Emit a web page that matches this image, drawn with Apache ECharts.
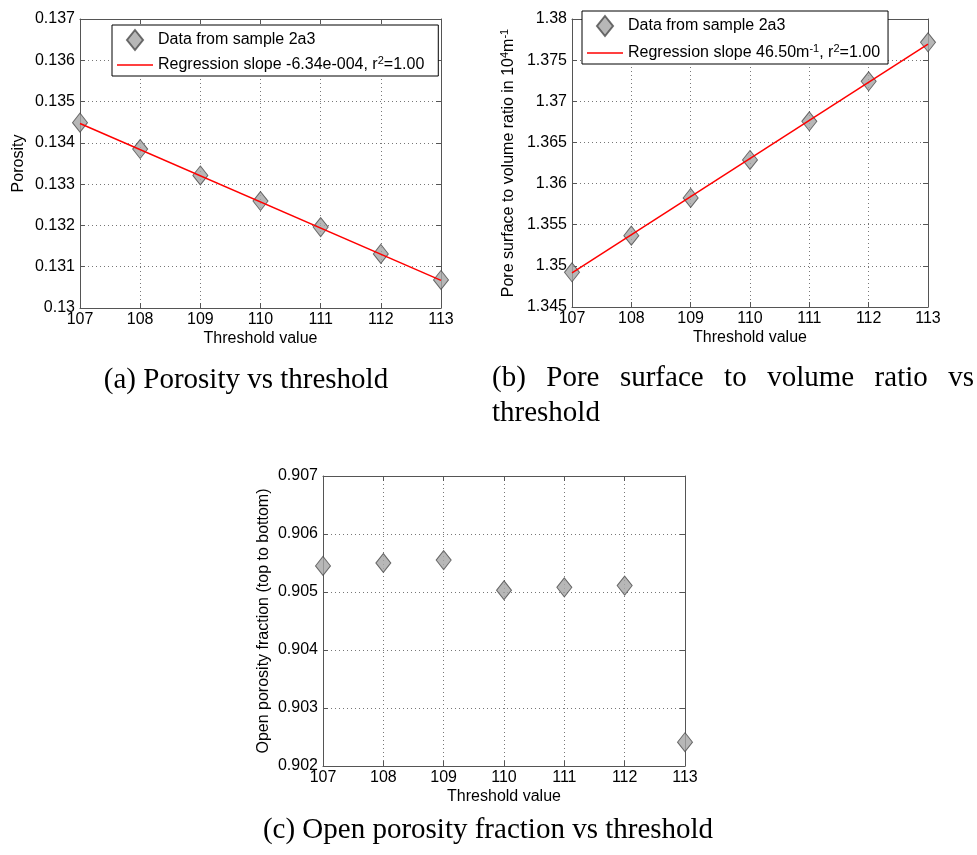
<!DOCTYPE html>
<html>
<head>
<meta charset="utf-8">
<script src="https://cdn.jsdelivr.net/npm/echarts@6/dist/echarts.min.js"></script>
<style>
html,body{margin:0;padding:0;background:#fff;}
#main{width:977px;height:855px;}
</style>
</head>
<body>
<div id="main"></div>
<script>
// ---- data ----
const thresholds = [107, 108, 109, 110, 111, 112, 113];
const porosity = [0.13449, 0.13385, 0.13321, 0.13259, 0.13196, 0.13131, 0.13068];
const porosityFit = [0.13447, 0.13067];          // regression line at 107 and 113
const surfaceRatio = [1.34922, 1.35367, 1.35825, 1.36287, 1.36757, 1.37243, 1.37717];
const surfaceFit = [1.34915, 1.37696];            // regression line at 107 and 113
const openPorosity = [0.90545, 0.9055, 0.90555, 0.90503, 0.90508, 0.90511, 0.90241];
const fitX = [107, 113];

const yTicksA = {min: 0.13, max: 0.137, interval: 0.001};
const yTicksB = {min: 1.345, max: 1.38, interval: 0.005};
const yTicksC = {min: 0.902, max: 0.907, interval: 0.001};
const xTicks = {min: 107, max: 113, interval: 1};

const dataName = 'Data from sample 2a3';
const regNameA = 'Regression slope -6.34e-004, r2=1.00';
const regNameB = 'Regression slope 46.50m-1, r2=1.00';

// ---- styling ----
const FONT = 'Liberation Sans, Arial, sans-serif';
const CAPFONT = '29px "Liberation Serif", serif';
const AX = '#555';
const grids = [
  {left: 80, top: 19, width: 361, height: 289},
  {left: 572, top: 19, width: 356, height: 288},
  {left: 323, top: 476, width: 362, height: 290}
];
const supRich = {
  sup: {fontSize: 11, fontFamily: FONT, color: '#000', verticalAlign: 'top', lineHeight: 11},
  n: {fontSize: 16, fontFamily: FONT, color: '#000', lineHeight: 20}
};

function xAxes(gi) {
  return [
    {gridIndex: gi, type: 'value', position: 'bottom', ...xTicks,
     axisLine: {show: true, lineStyle: {color: AX, width: 1}},
     axisTick: {show: true, inside: true, length: 5, lineStyle: {color: AX}},
     axisLabel: {color: '#000', fontSize: 16, fontFamily: FONT, margin: 4},
     splitLine: {show: true, lineStyle: {color: '#777', type: [1, 3], width: 1}},
     name: 'Threshold value', nameLocation: 'middle', nameGap: 23,
     nameTextStyle: {color: '#000', fontSize: 16, fontFamily: FONT}},
    {gridIndex: gi, type: 'value', position: 'top', ...xTicks,
     axisLine: {show: true, lineStyle: {color: AX, width: 1}},
     axisTick: {show: true, inside: true, length: 5, lineStyle: {color: AX}},
     axisLabel: {show: false}, splitLine: {show: false}}
  ];
}
function yAxes(gi, ticks, name, gap) {
  return [
    {gridIndex: gi, type: 'value', position: 'left', ...ticks,
     axisLine: {show: true, lineStyle: {color: AX, width: 1}},
     axisTick: {show: true, inside: true, length: 5, lineStyle: {color: AX}},
     axisLabel: {color: '#000', fontSize: 16, fontFamily: FONT, margin: 5},
     splitLine: {show: true, lineStyle: {color: '#777', type: [1, 3], width: 1}},
     name: name, nameLocation: 'middle', nameGap: gap,
     nameTextStyle: {color: '#000', fontSize: 16, fontFamily: FONT, rich: supRich}},
    {gridIndex: gi, type: 'value', position: 'right', ...ticks,
     axisLine: {show: true, lineStyle: {color: AX, width: 1}},
     axisTick: {show: true, inside: true, length: 5, lineStyle: {color: AX}},
     axisLabel: {show: false}, splitLine: {show: false}}
  ];
}

const marker = {
  type: 'scatter', symbol: 'diamond', symbolSize: [15, 19],
  itemStyle: {color: '#a5a5a5', borderColor: '#4a4a4a', borderWidth: 1}, z: 3
};
const pts = ys => thresholds.map((x, i) => [x, ys[i]]);
const fit = ys => fitX.map((x, i) => [x, ys[i]]);

function legendFmt(name) {
  if (name === regNameA) return '{n|Regression slope -6.34e-004, r}{sup|2}{n|=1.00}';
  if (name === regNameB) return '{n|Regression slope 46.50m}{sup|-1}{n|, r}{sup|2}{n|=1.00}';
  return '{n|' + name + '}';
}
const DIAMOND = 'path://M8,0 L16,10 L8,20 L0,10 Z';
const LINE = 'path://M0,0 L36,0 L36,1.5 L0,1.5 Z';
function legend(left, top, regName, gap, padR) {
  return {
    left: left, top: top, orient: 'vertical',
    data: [{name: dataName, icon: DIAMOND}, {name: regName, icon: LINE}],
    itemWidth: 36, itemHeight: 20, itemGap: gap,
    backgroundColor: '#fff', borderColor: '#000', borderWidth: 1,
    padding: [4, padR, 3, 5],
    formatter: legendFmt, selectedMode: false,
    textStyle: {color: '#000', fontSize: 16, fontFamily: FONT, rich: supRich}
  };
}

function caption(text, x, y, align) {
  return {type: 'text', x: x, y: y, z: 100,
    style: {text: text, fill: '#000', font: CAPFONT,
      align: align || 'left', verticalAlign: 'middle',
      textAlign: align || 'left', textVerticalAlign: 'middle'}};
}
// justified first line of caption (b): equal gaps between words from x=492 to x=975
const wordsB = ['(b)', 'Pore', 'surface', 'to', 'volume', 'ratio', 'vs'];
function justified(words, x0, x1, y) {
  const ctx = document.createElement('canvas').getContext('2d');
  ctx.font = CAPFONT;
  const w = words.map(t => ctx.measureText(t).width);
  const gap = (x1 - x0 - w.reduce((a, b) => a + b, 0)) / (words.length - 1);
  let x = x0;
  return words.map((t, i) => { const g = caption(t, x, y, 'left'); x += w[i] + gap; return g; });
}

const option = {
  animation: false,
  backgroundColor: '#fff',
  grid: grids,
  xAxis: [...xAxes(0), ...xAxes(1), ...xAxes(2)],
  yAxis: [
    ...yAxes(0, yTicksA, 'Porosity', 53),
    ...yAxes(1, yTicksB, '{n|Pore surface to volume ratio in 10}{sup|4}{n|m}{sup|-1}', 53),
    ...yAxes(2, yTicksC, 'Open porosity fraction (top to bottom)', 51)
  ],
  legend: [legend(112, 25, regNameA, 4, 14), legend(582, 11, regNameB, 6, 8)],
  series: [
    {...marker, name: dataName, xAxisIndex: 0, yAxisIndex: 0, data: pts(porosity)},
    {type: 'line', name: regNameA, xAxisIndex: 0, yAxisIndex: 0, data: fit(porosityFit),
     symbol: 'none', lineStyle: {color: '#ff0000', width: 1.5}, itemStyle: {color: '#ff0000'}, z: 4},
    {...marker, name: dataName, xAxisIndex: 2, yAxisIndex: 2, data: pts(surfaceRatio)},
    {type: 'line', name: regNameB, xAxisIndex: 2, yAxisIndex: 2, data: fit(surfaceFit),
     symbol: 'none', lineStyle: {color: '#ff0000', width: 1.5}, itemStyle: {color: '#ff0000'}, z: 4},
    {...marker, name: 'Open porosity', xAxisIndex: 4, yAxisIndex: 4, data: pts(openPorosity)}
  ],
  graphic: [
    caption('(a) Porosity vs threshold', 246, 380, 'center'),
    ...justified(wordsB, 492, 974, 378),
    caption('threshold', 492, 413, 'left'),
    caption('(c) Open porosity fraction vs threshold', 488, 830, 'center')
  ]
};

const chart = echarts.init(document.getElementById('main'), null, {renderer: 'canvas'});
chart.setOption(option);
</script>
</body>
</html>
